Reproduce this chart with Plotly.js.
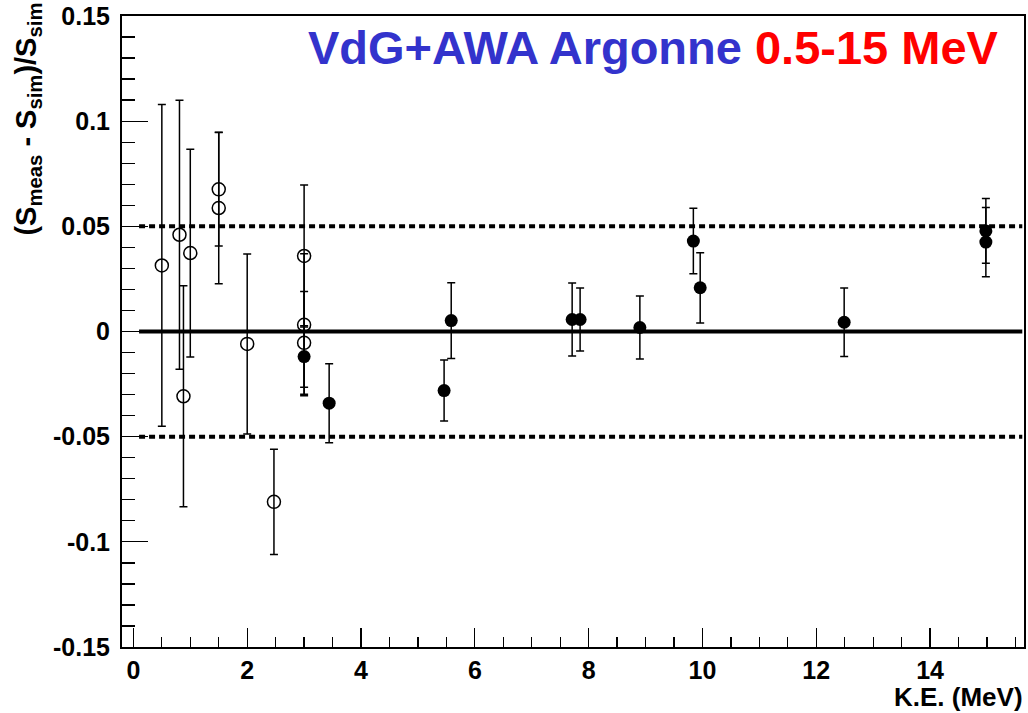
<!DOCTYPE html>
<html>
<head>
<meta charset="utf-8">
<script src="https://cdn.plot.ly/plotly-3.0.1.min.js"></script>
<style>html,body{margin:0;padding:0;background:#fff;}#chart{width:1028px;height:713px;}</style>
</head>
<body>
<div id="chart"></div>
<script>
// Open circles (VdG)
const openX   = [0.5, 0.81, 0.88, 1.0, 1.5, 1.5, 2.0, 2.47, 3.0, 3.0, 3.0];
const openY   = [0.0314, 0.046, -0.0308, 0.0373, 0.0676, 0.0587, -0.0059, -0.081, 0.0359, 0.0032, -0.0054];
const openErr = [0.0765, 0.064, 0.0525, 0.0494, 0.027, 0.036, 0.0428, 0.025, 0.0338, 0.0338, 0.0244];

// Filled circles (AWA)
const filledX   = [3.0, 3.44, 5.46, 5.585, 7.71, 7.85, 8.9, 9.84, 9.96, 12.49, 14.98, 14.98];
const filledY   = [-0.0119, -0.0341, -0.0281, 0.0052, 0.0057, 0.0057, 0.0019, 0.043, 0.0208, 0.0044, 0.0478, 0.0425];
const filledErr = [0.0146, 0.0188, 0.0145, 0.018, 0.0173, 0.015, 0.015, 0.0156, 0.0167, 0.0163, 0.0154, 0.0165];

// Reference lines
const solidLevel = 0;
const dashedLevels = [0.05, -0.05];
const lineSpan = [0.1, 15.62];

// Ticks
const yTickVals = [-0.15, -0.1, -0.05, 0, 0.05, 0.1, 0.15];
const yTickText = ["-0.15", "-0.1", "-0.05", "0", "0.05", "0.1", "0.15"];
const xTickVals = [0, 2, 4, 6, 8, 10, 12, 14];
const xTickText = ["0", "2", "4", "6", "8", "10", "12", "14"];

const titleBlue = "VdG+AWA Argonne";
const titleRed = "0.5-15 MeV";
const xTitle = "K.E. (MeV)";
const yTitle = "(S<sub>meas</sub> - S<sub>sim</sub>)/S<sub>sim</sub>";

const FONT = "Liberation Sans, Arial, Helvetica, sans-serif";

const traces = [];
traces.push({
  x: lineSpan, y: [solidLevel, solidLevel], mode: "lines", type: "scatter",
  line: {color: "#000", width: 4}, hoverinfo: "skip", showlegend: false
});
dashedLevels.forEach(v => traces.push({
  x: lineSpan, y: [v, v], mode: "lines", type: "scatter",
  line: {color: "#000", width: 4, dash: "6px,4px"}, hoverinfo: "skip", showlegend: false
}));
traces.push({
  x: openX, y: openY, mode: "markers", type: "scatter", showlegend: false,
  marker: {symbol: "circle-open", size: 13, color: "#000", line: {width: 1.5, color: "#000"}},
  error_y: {type: "data", array: openErr, visible: true, color: "#000", thickness: 1.5, width: 4}
});
traces.push({
  x: filledX, y: filledY, mode: "markers", type: "scatter", showlegend: false,
  marker: {symbol: "circle", size: 13, color: "#000"},
  error_y: {type: "data", array: filledErr, visible: true, color: "#000", thickness: 1.5, width: 4}
});

const layout = {
  width: 1028, height: 713,
  margin: {l: 122, r: 4, t: 16, b: 66},
  paper_bgcolor: "#fff", plot_bgcolor: "#fff",
  showlegend: false,
  font: {family: FONT, color: "#000"},
  xaxis: {
    range: [-0.2, 15.65], showgrid: false, zeroline: false,
    showline: true, linecolor: "#000", linewidth: 2, mirror: true,
    ticks: "inside", ticklen: 19, tickwidth: 1.3, tickcolor: "#000",
    tickvals: xTickVals, ticktext: xTickText,
    tickfont: {family: FONT, size: 25, weight: "bold", color: "#000"},
    ticklabelstandoff: 0,
    minor: {dtick: 0.5, ticks: "inside", ticklen: 10, tickwidth: 1.3, tickcolor: "#000", showgrid: false}
  },
  yaxis: {
    range: [-0.15, 0.15], showgrid: false, zeroline: false,
    showline: true, linecolor: "#000", linewidth: 2, mirror: true,
    ticks: "inside", ticklen: 26, tickwidth: 1.3, tickcolor: "#000",
    tickvals: yTickVals, ticktext: yTickText,
    tickfont: {family: FONT, size: 25, weight: "bold", color: "#000"},
    ticklabelstandoff: 5,
    minor: {dtick: 0.01, ticks: "inside", ticklen: 13, tickwidth: 1.3, tickcolor: "#000", showgrid: false}
  },
  annotations: [
    {
      xref: "paper", yref: "paper", x: 0.9745, y: 0.9505, xanchor: "right", yanchor: "middle",
      showarrow: false,
      text: '<span style="color:#3333cc">' + titleBlue + '</span> <span style="color:#ff0000">' + titleRed + '</span>',
      font: {family: FONT, size: 47, weight: "bold"}
    },
    {
      xref: "paper", yref: "paper", x: 1.0, y: -0.0785, xanchor: "right", yanchor: "middle",
      showarrow: false, text: xTitle, borderpad: 0,
      font: {family: FONT, size: 26, weight: "bold", color: "#000"}
    },
    {
      xref: "paper", yref: "paper", x: -0.104, y: 1.024, xanchor: "center", yanchor: "top",
      showarrow: false, text: yTitle, textangle: -90,
      font: {family: FONT, size: 29, weight: "bold", color: "#000"}
    }
  ]
};

Plotly.newPlot("chart", traces, layout, {displayModeBar: false, staticPlot: true});
</script>
</body>
</html>
